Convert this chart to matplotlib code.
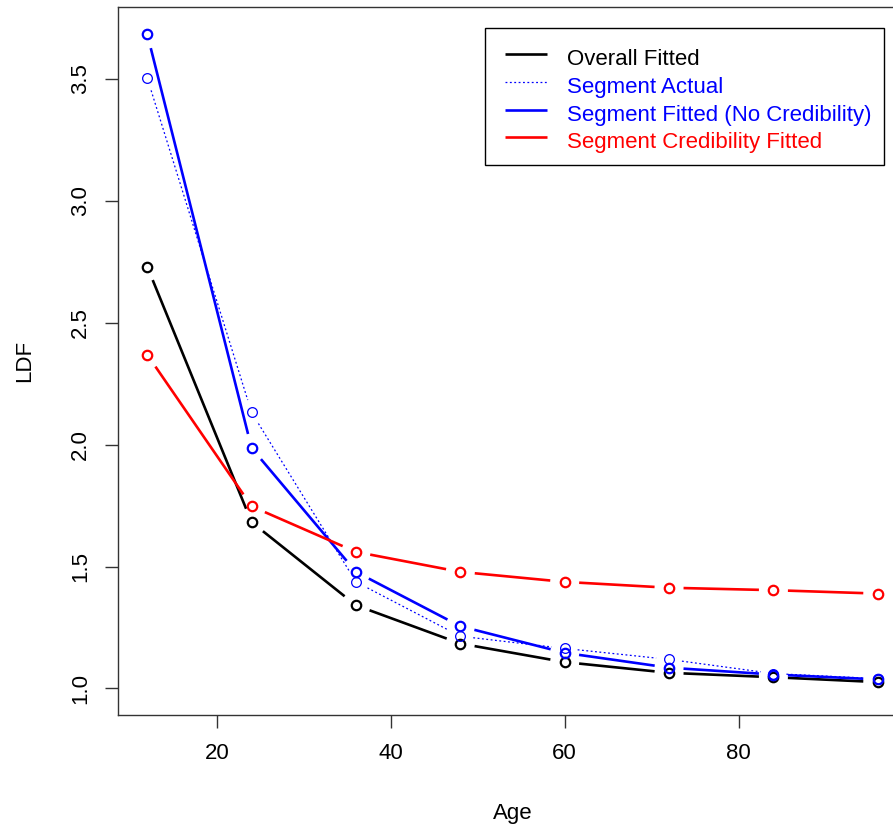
import numpy as np
import matplotlib
matplotlib.use("Agg")
import matplotlib.pyplot as plt
from matplotlib.lines import Line2D
from matplotlib.patches import Rectangle

plt.rcParams["font.family"] = ["Liberation Sans", "DejaVu Sans"]

# Development ages (months)
age = [12, 24, 36, 48, 60, 72, 84, 96]

# Loss development factors
overall_fitted = [2.730, 1.682, 1.341, 1.184, 1.108, 1.064, 1.046, 1.026]
segment_actual = [3.504, 2.132, 1.437, 1.214, 1.164, 1.119, 1.061, 1.040]
segment_fitted = [3.684, 1.986, 1.478, 1.255, 1.146, 1.085, 1.057, 1.037]
segment_cred = [2.369, 1.747, 1.560, 1.478, 1.437, 1.413, 1.403, 1.389]

legend_labels = ["Overall Fitted", "Segment Actual",
                 "Segment Fitted (No Credibility)", "Segment Credibility Fitted"]
legend_colors = ["black", "blue", "blue", "red"]

W, H, DPI = 893, 825, 100
FS = 16
fig = plt.figure(figsize=(W / DPI, H / DPI), dpi=DPI)
ax = fig.add_axes([118 / W, 1 - 715 / H, (907 - 118) / W, (715 - 7) / H])
ax.set_xlim(8.64, 99.36)
ax.set_ylim(0.891, 3.795)


def fx(px):
    return px / W


def fy(py):
    return 1 - py / H


def gapped_line(ax, x, y, gap_px, color, lw, dashes=None, ms=6.8, mew=1.6):
    """Points joined by segments that stop short of each marker (type='b')."""
    pts = ax.transData.transform(np.column_stack([x, y]))
    inv = ax.transData.inverted()
    for p0, p1 in zip(pts[:-1], pts[1:]):
        d = p1 - p0
        L = np.hypot(*d)
        if L <= 2 * gap_px:
            continue
        u = d / L
        a, b = inv.transform(np.vstack([p0 + u * gap_px, p1 - u * gap_px]))
        ln, = ax.plot([a[0], b[0]], [a[1], b[1]], color=color, lw=lw,
                      solid_capstyle="butt", dash_capstyle="butt")
        if dashes is not None:
            ln.set_dashes(dashes)
    ax.plot(x, y, linestyle="none", marker="o", markersize=ms,
            markerfacecolor="none", markeredgecolor=color, markeredgewidth=mew)


gapped_line(ax, age, overall_fitted, 14.5, "black", 1.9)
gapped_line(ax, age, segment_actual, 13, "blue", 0.9, dashes=(1.5, 2.0),
            ms=7.0, mew=0.9)
gapped_line(ax, age, segment_fitted, 14.5, "blue", 1.9)
gapped_line(ax, age, segment_cred, 14.5, "red", 1.9)

ax.set_xticks([20, 40, 60, 80])
ax.set_yticks([1.0, 1.5, 2.0, 2.5, 3.0, 3.5])
ax.set_yticklabels(["1.0", "1.5", "2.0", "2.5", "3.0", "3.5"],
                   rotation=90, va="center")
ax.tick_params(axis="both", length=9.7, width=1, labelsize=FS,
               color="#333333")
ax.tick_params(axis="x", pad=10.5)
ax.tick_params(axis="y", pad=9.5)
for s in ax.spines.values():
    s.set_linewidth(1)
    s.set_color("#333333")

fig.text(fx(512.5), fy(819), "Age", ha="center", va="baseline", fontsize=FS)
fig.text(fx(25), fy(361), "LDF", ha="center", va="center", fontsize=FS,
         rotation=90)

# Legend box drawn in figure pixel positions
fig.add_artist(Rectangle((fx(485), fy(165)), fx(884 - 485), (165 - 28) / H,
                         transform=fig.transFigure, fill=True,
                         facecolor="white", edgecolor="black", lw=1,
                         zorder=5))
row_y = [54.3, 82.0, 109.7, 137.4]
line_styles = [dict(lw=1.9), dict(lw=0.9, dashes=(1.5, 2.0)),
               dict(lw=1.9), dict(lw=1.9)]
for label, color, yy, st in zip(legend_labels, legend_colors, row_y,
                                line_styles):
    ln = Line2D([fx(505), fx(547)], [fy(yy), fy(yy)], color=color,
                transform=fig.transFigure, zorder=6,
                solid_capstyle="butt", dash_capstyle="butt",
                lw=st["lw"])
    if "dashes" in st:
        ln.set_dashes(st["dashes"])
    fig.add_artist(ln)
    fig.text(fx(567), fy(yy + 11), label, color=color, fontsize=FS,
             ha="left", va="baseline", zorder=7)

fig.savefig("out.png", dpi=DPI)
